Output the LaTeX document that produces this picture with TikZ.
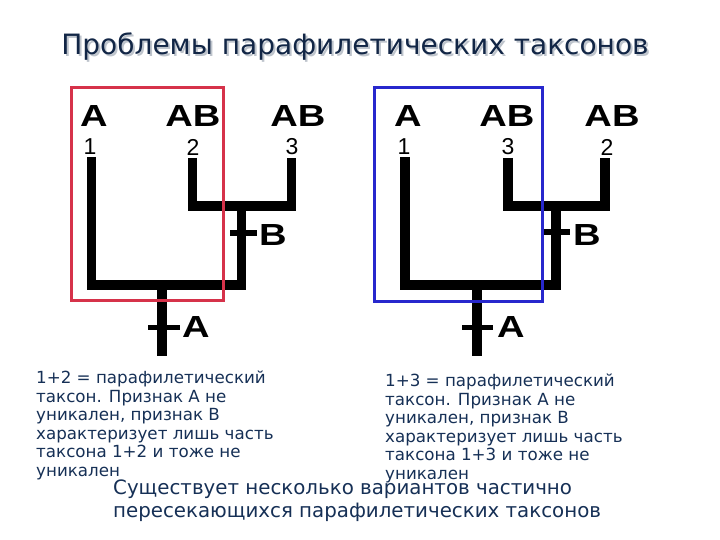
\documentclass[tikz,border=0pt]{standalone}
\usepackage{fontspec}
\setmainfont{DejaVu Sans}
\newfontfamily\arialfont{Liberation Sans}
\usepackage{tikz}
\usetikzlibrary{positioning}
\definecolor{TitleBlue}{RGB}{18,38,70}
\definecolor{TextBlue}{RGB}{22,48,86}
\definecolor{shadowgrey}{RGB}{190,196,204}
\definecolor{RedBox}{RGB}{214,50,74}
\definecolor{BlueBox}{RGB}{40,40,205}
\newcommand{\widetrait}[1]{\scalebox{1.25}[1]{#1}}

\begin{document}
\begin{tikzpicture}[
  x=1pt, y=-1pt,
  branch/.style={line width=9.5pt, line join=miter},
  tick/.style={line width=5pt},
  trait/.style={font=\arialfont\bfseries\fontsize{30.5}{30.5}\selectfont, inner sep=0pt},
  leafno/.style={font=\arialfont\fontsize{23}{23}\selectfont, inner sep=0pt},
  note/.style={font=\fontsize{16.7}{18.5}\selectfont, text=TextBlue, align=left, anchor=north west, inner sep=0pt},
]
\useasboundingbox[fill=white] (0,0) rectangle (720,540);

% Title
\node[text=shadowgrey, font=\fontsize{28}{28}\selectfont] (titleshadow) at (357,49){Проблемы парафилетических таксонов};
\node[text=TitleBlue, font=\fontsize{28}{28}\selectfont] (title) at (355,47){Проблемы парафилетических таксонов};

% Left tree: 1+2
\coordinate (L1) at (91.5,157);
\coordinate (L2) at (192.5,158);
\coordinate (L3) at (291.5,158);
\coordinate (LB) at (241.5,206);
\coordinate (LA) at (162,285);
\coordinate (Lroot) at (162,356);
\draw[branch] (L1) |- (LA) -| (LB);
\draw[branch] (L2) |- (LB) -| (L3);
\draw[branch] (LA) -- (Lroot);
\coordinate (LtickB) at (241.5,233);
\coordinate (LtickA) at (162,327);
\draw[tick] ([xshift=-11.5pt]LtickB) -- ([xshift=15.5pt]LtickB);
\draw[tick] ([xshift=-14pt]LtickA) -- ([xshift=18pt]LtickA);
\node[trait] (LtopA)  at (94,116){\widetrait{A}};
\node[trait] (LtopAB) at (193,116){\widetrait{AB}};
\node[trait] (LtopAB3) at (298,116){\widetrait{AB}};
\node[leafno] (Lno1) at (90,147){1};
\node[leafno] (Lno2) at (193,147){2};
\node[leafno] (Lno3) at (292,147){3};
\node[trait] (LlabB) at (273,235){\widetrait{B}};
\node[trait] (LlabA) at (196,327){\widetrait{A}};
\draw[RedBox, line width=3pt] (71,88) rectangle (223,300);

% Right tree: 1+3
\coordinate (R1) at (405,157);
\coordinate (R3) at (508,158);
\coordinate (R2) at (605,158);
\coordinate (RB) at (556,206);
\coordinate (RA) at (477,285);
\coordinate (Rroot) at (477,356);
\draw[branch] (R1) |- (RA) -| (RB);
\draw[branch] (R3) |- (RB) -| (R2);
\draw[branch] (RA) -- (Rroot);
\coordinate (RtickB) at (556,232);
\coordinate (RtickA) at (477,327);
\draw[tick] ([xshift=-12pt]RtickB) -- ([xshift=14pt]RtickB);
\draw[tick] ([xshift=-15pt]RtickA) -- ([xshift=16pt]RtickA);
\node[trait] (RtopA)  at (408,116){\widetrait{A}};
\node[trait] (RtopAB3) at (507,116){\widetrait{AB}};
\node[trait] (RtopAB) at (612,116){\widetrait{AB}};
\node[leafno] (Rno1) at (404,147){1};
\node[leafno] (Rno3) at (508,147){3};
\node[leafno] (Rno2) at (607,147){2};
\node[trait] (RlabB) at (587,235){\widetrait{B}};
\node[trait] (RlabA) at (511,327){\widetrait{A}};
\draw[BlueBox, line width=3pt] (374,88) rectangle (542,301);

% Notes
\node[note] (leftnote) at (36,371){1+2 = парафилетический\\таксон. Признак А не\\уникален, признак В\\характеризует лишь часть\\таксона 1+2 и тоже не\\уникален};
\node[note] (rightnote) at (385,374){1+3 = парафилетический\\таксон. Признак А не\\уникален, признак В\\характеризует лишь часть\\таксона 1+3 и тоже не\\уникален};
\node[note, font=\fontsize{19.8}{23}\selectfont] (summary) at (113,480){Существует несколько вариантов частично\\пересекающихся парафилетических таксонов};

\end{tikzpicture}
\end{document}
